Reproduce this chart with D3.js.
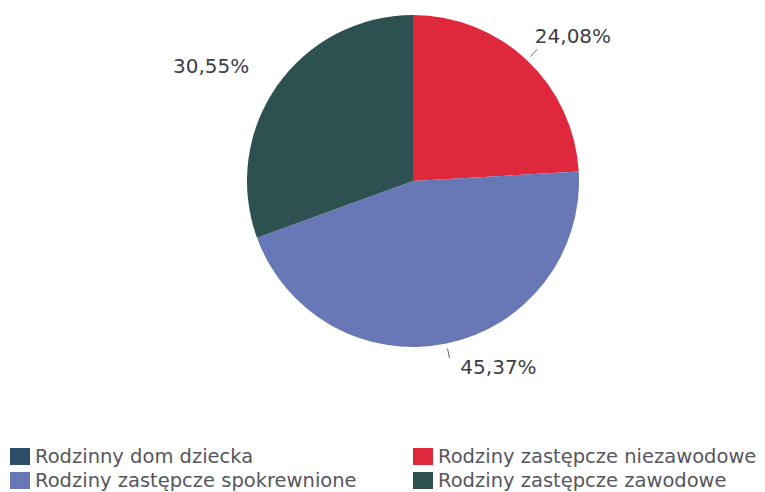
<!DOCTYPE html>
<html>
<head>
<meta charset="utf-8">
<script src="https://cdn.jsdelivr.net/npm/d3@7"></script>
<style>
  html, body { margin: 0; padding: 0; background: #fff; }
  svg { display: block; font-family: 'DejaVu Sans', sans-serif; }
</style>
</head>
<body>
<div id="chart"></div>
<script>
const categories = [
  'Rodzinny dom dziecka',
  'Rodziny zastępcze niezawodowe',
  'Rodziny zastępcze spokrewnione',
  'Rodziny zastępcze zawodowe'
];
const values = [0, 24.08, 45.37, 30.55];
const colours = ['#2e4d6b', '#e0283c', '#6877b5', '#2d5150'];

const width = 765;
const height = 492;
const cx = 413;
const cy = 181;
const radius = 166;
const labelRadius = 195;
const labelFont = 20;
const legendFont = 19.5;
// small label nudges, per category, to sit the labels where the original puts them
const labelNudge = [[0, 0], [-12, -3], [8, -5], [-4, -3]];

const svg = d3.select('#chart')
  .append('svg')
  .attr('width', width)
  .attr('height', height);

const pie = d3.pie()
  .sort(null)
  .value(d => d.value);

const data = categories.map((name, i) => ({ name, i, value: values[i], colour: colours[i] }));
const arcs = pie(data).filter(d => d.data.value > 0);

const arc = d3.arc().innerRadius(0).outerRadius(radius);

const g = svg.append('g').attr('transform', `translate(${cx},${cy})`);

g.selectAll('path')
  .data(arcs)
  .join('path')
  .attr('d', arc)
  .attr('fill', d => d.data.colour);

const mid = d => (d.startAngle + d.endAngle) / 2;
const fmt = v => v.toFixed(2).replace('.', ',') + '%';

// short leader lines on the right-hand labels
g.selectAll('line.leader')
  .data(arcs.filter(d => Math.sin(mid(d)) > 0))
  .join('line')
  .attr('class', 'leader')
  .attr('x1', d => Math.sin(mid(d)) * (radius + 5))
  .attr('y1', d => -Math.cos(mid(d)) * (radius + 5))
  .attr('x2', d => Math.sin(mid(d)) * (radius + 15))
  .attr('y2', d => -Math.cos(mid(d)) * (radius + 15))
  .attr('stroke', '#666')
  .attr('stroke-width', 1);

g.selectAll('text.label')
  .data(arcs)
  .join('text')
  .attr('class', 'label')
  .attr('x', d => Math.sin(mid(d)) * labelRadius + labelNudge[d.data.i][0])
  .attr('y', d => -Math.cos(mid(d)) * labelRadius + labelNudge[d.data.i][1])
  .attr('dy', '0.35em')
  .attr('text-anchor', d => Math.sin(mid(d)) > 0 ? 'start' : 'end')
  .attr('fill', '#3e3e46')
  .style('font-size', labelFont + 'px')
  .text(d => fmt(d.data.value));

// legend, two columns filled row by row
const legend = svg.append('g');
const colX = [10, 413];
const rowY = [448, 472];
const item = legend.selectAll('g')
  .data(data)
  .join('g')
  .attr('transform', (d, i) => `translate(${colX[i % 2]},${rowY[Math.floor(i / 2)]})`);

item.append('rect')
  .attr('width', 20)
  .attr('height', 17)
  .attr('fill', d => d.colour);

item.append('text')
  .attr('x', 25)
  .attr('y', 15)
  .attr('fill', '#56565e')
  .style('font-size', legendFont + 'px')
  .text(d => d.name);
</script>
</body>
</html>
